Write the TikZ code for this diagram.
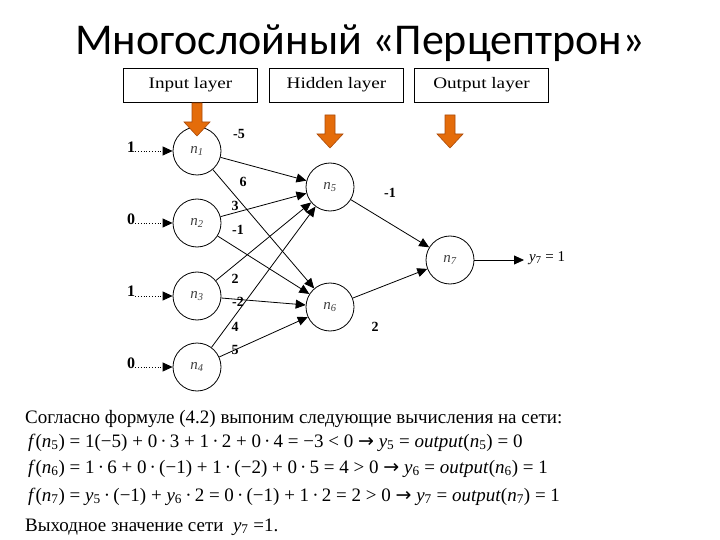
\documentclass[tikz,border=0pt]{standalone}
\usepackage{fontspec}
\setmainfont{Liberation Serif}
\newfontfamily\titlefont{Carlito}
\newfontfamily\boxfont[FakeStretch=1.2]{Liberation Serif}
\newfontfamily\symfont{DejaVu Sans}
\usetikzlibrary{arrows.meta, positioning}
\definecolor{arroworange}{RGB}{228,108,10}
\definecolor{arrowedge}{RGB}{170,75,10}

\begin{document}
\begin{tikzpicture}[
    x=1pt, y=-1pt,
    every node/.style={inner sep=0pt},
    layerbox/.style={
        rectangle,
        draw,
        line width=0.8pt,
        minimum width=134pt,
        minimum height=34pt,
        font=\boxfont\fontsize{16}{19}\selectfont
    },
    neuron/.style={
        circle,
        draw,
        line width=0.8pt,
        minimum size=48pt,
        font=\fontsize{15}{17}\selectfont\itshape,
        text=black!75
    },
    weight/.style={font=\bfseries\fontsize{14}{17}\selectfont},
    inval/.style={font=\bfseries\fontsize{16}{18}\selectfont},
    link/.style={line width=0.8pt, -{Triangle[length=10pt, width=9pt]}},
    feed/.style={line width=0.8pt, dotted, -{Triangle[length=10pt, width=9pt]}},
    textline/.style={anchor=base west, font=\fontsize{19}{22}\selectfont},
    layerarrow/.pic={
        \filldraw[fill=arroworange, draw=arrowedge, line width=0.6pt]
            (-5,0) -- (5,0) -- (5,19) -- (13,19) -- (0,33) -- (-13,19) -- (-5,19) -- cycle;
    }
]
\useasboundingbox (0,0) rectangle (720,540);

% title
\node (title) [anchor=base, font=\titlefont\fontsize{44}{50}\selectfont] at (360,55) {Многослойный «Перцептрон»};

% layer headers
\node (inbox) [layerbox] at (190.5,85) {Input layer};
\node (hidbox) [layerbox] at (336.5,85) {Hidden layer};
\node (outbox) [layerbox] at (481.5,85) {Output layer};

% neurons
\node (n1) [neuron] at (197,151) {n\textsubscript{1}};
\node (n2) [neuron] at (197,223) {n\textsubscript{2}};
\node (n3) [neuron] at (197,296) {n\textsubscript{3}};
\node (n4) [neuron] at (197,367) {n\textsubscript{4}};
\node (n5) [neuron] at (330,187) {n\textsubscript{5}};
\node (n6) [neuron] at (330,307) {n\textsubscript{6}};
\node (n7) [neuron] at (450,260) {n\textsubscript{7}};

% inputs
\node (x1) [inval] at (131,147) {1};
\node (x2) [inval] at (131,219) {0};
\node (x3) [inval] at (131,291) {1};
\node (x4) [inval] at (131,363) {0};
\draw [feed] (x1.east |- n1) -- (n1);
\draw [feed] (x2.east |- n2) -- (n2);
\draw [feed] (x3.east |- n3) -- (n3);
\draw [feed] (x4.east |- n4) -- (n4);

% weighted links
\draw [link] (n1) -- (n5);
\draw [link] (n1) -- (n6);
\draw [link] (n2) -- (n5);
\draw [link] (n2) -- (n6);
\draw [link] (n3) -- (n5);
\draw [link] (n3) -- (n6);
\draw [link] (n4) -- (n5);
\draw [link] (n4) -- (n6);
\draw [link] (n5) -- (n7);
\draw [link] (n6) -- (n7);

\node (w15) [weight] at (239,134) {-5};
\node (w16) [weight] at (243,182) {6};
\node (w25) [weight] at (235,206) {3};
\node (w26) [weight] at (238,230) {-1};
\node (w35) [weight] at (235,279) {2};
\node (w36) [weight] at (238,302) {-2};
\node (w45) [weight] at (235,327) {4};
\node (w46) [weight] at (235,350) {5};
\node (w57) [weight] at (390,193) {-1};
\node (w67) [weight] at (375,327) {2};

% output
\node (y7) [anchor=west, inner sep=5pt, font=\fontsize{15}{18}\selectfont] at (524,258) {\textit{y}\textsubscript{7} = 1};
\draw [link] (n7) -- (y7.west |- n7);

% layer arrows
\pic at (197,103) {layerarrow};
\pic at (330,115) {layerarrow};
\pic at (450,115) {layerarrow};

% computation
\node (line1) [textline] at (25,423) {Согласно формуле (4.2) выпоним следующие вычисления на сети:};
\node (line2) [textline] at (28,447) {\textit{f}(\textit{n}\textsubscript{5}) = 1(−5) + 0\,·\,3 + 1\,·\,2 + 0\,·\,4 = −3 < 0 {\symfont →} \textit{y}\textsubscript{5} = \textit{output}(\textit{n}\textsubscript{5}) = 0};
\node (line3) [textline] at (28,473) {\textit{f}(\textit{n}\textsubscript{6}) = 1\,·\,6 + 0\,·\,(−1) + 1\,·\,(−2) + 0\,·\,5 = 4 > 0 {\symfont →} \textit{y}\textsubscript{6} = \textit{output}(\textit{n}\textsubscript{6}) = 1};
\node (line4) [textline] at (28,501) {\textit{f}(\textit{n}\textsubscript{7}) = \textit{y}\textsubscript{5}\,·\,(−1) + \textit{y}\textsubscript{6}\,·\,2 = 0\,·\,(−1) + 1\,·\,2 = 2 > 0 {\symfont →} \textit{y}\textsubscript{7} = \textit{output}(\textit{n}\textsubscript{7}) = 1};
\node (line5) [textline] at (25,531) {Выходное значение сети \ \textit{y}\textsubscript{7} =1.};

\end{tikzpicture}
\end{document}
